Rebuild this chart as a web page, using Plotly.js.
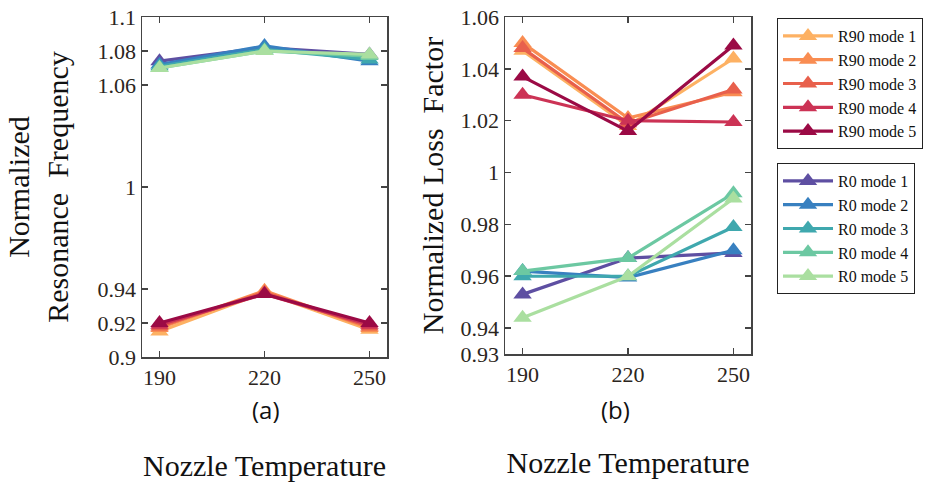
<!DOCTYPE html>
<html>
<head>
<meta charset="utf-8">
<script src="https://cdn.plot.ly/plotly-3.0.1.min.js"></script>
<style>html,body{margin:0;padding:0;background:#fff;}#chart{width:934px;height:486px;}</style>
</head>
<body>
<div id="chart"></div>
<script>
// ---- data ----
const temps = [190, 220, 250];
const r90Names = ['R90 mode 1', 'R90 mode 2', 'R90 mode 3', 'R90 mode 4', 'R90 mode 5'];
const r0Names = ['R0 mode 1', 'R0 mode 2', 'R0 mode 3', 'R0 mode 4', 'R0 mode 5'];
const r90Colors = ['#fdb163', '#f98d52', '#e8604c', '#cc3355', '#9b0a45'];
const r0Colors = ['#5e4fa2', '#3880c0', '#3fa8ae', '#6cc8a2', '#aadfa0'];

// (a) Normalized resonance frequency
const freqR90 = [
  [0.915, 0.938, 0.916],
  [0.917, 0.939, 0.917],
  [0.918, 0.938, 0.918],
  [0.919, 0.937, 0.919],
  [0.920, 0.937, 0.920]
];
const freqR0 = [
  [1.074, 1.082, 1.078],
  [1.072, 1.083, 1.074],
  [1.071, 1.081, 1.075],
  [1.070, 1.080, 1.077],
  [1.070, 1.080, 1.078]
];
// (b) Normalized loss factor
const lossR90 = [
  [1.047, 1.018, 1.044],
  [1.050, 1.021, 1.031],
  [1.048, 1.019, 1.032],
  [1.030, 1.020, 1.0195],
  [1.037, 1.016, 1.049]
];
const lossR0 = [
  [0.953, 0.967, 0.969],
  [0.962, 0.9595, 0.970],
  [0.960, 0.960, 0.979],
  [0.962, 0.967, 0.992],
  [0.944, 0.960, 0.990]
];

const leftYTicks = [0.9, 0.92, 0.94, 1, 1.06, 1.08, 1.1];
const leftYText = ['0.9', '0.92', '0.94', '1', '1.06', '1.08', '1.1'];
const rightYTicks = [0.93, 0.94, 0.96, 0.98, 1, 1.02, 1.04, 1.06];
const rightYText = ['0.93', '0.94', '0.96', '0.98', '1', '1.02', '1.04', '1.06'];

// ---- traces ----
const traces = [];
function add(ys, names, colors, xa, ya, legendId, show) {
  ys.forEach((y, i) => {
    traces.push({
      x: temps, y: y, name: names[i], type: 'scatter', mode: 'lines+markers',
      xaxis: xa, yaxis: ya, legend: legendId, showlegend: show,
      line: {color: colors[i], width: 3.2},
      marker: {symbol: 'triangle-up', size: 16, color: colors[i]}
    });
  });
}
add(freqR90, r90Names, r90Colors, 'x', 'y', 'legend', true);
add(freqR0, r0Names, r0Colors, 'x', 'y', 'legend2', true);
add(lossR90, r90Names, r90Colors, 'x2', 'y2', 'legend', false);
add(lossR0, r0Names, r0Colors, 'x2', 'y2', 'legend2', false);

const serif = 'Liberation Serif, Times New Roman, serif';
const tickFont = {family: serif, size: 22, color: '#2b2520'};
const titleFont = {family: serif, size: 30, color: '#111'};
const legendFont = {family: serif, size: 16, color: '#111'};
const W = 934, H = 486;
const common = {
  showline: true, linecolor: '#444', linewidth: 1.5, mirror: 'ticks',
  ticks: 'inside', ticklen: 6, tickwidth: 1.5, tickcolor: '#444',
  showgrid: false, zeroline: false, tickfont: tickFont
};

const layout = {
  width: W, height: H,
  margin: {l: 0, r: 0, t: 0, b: 0},
  paper_bgcolor: '#fff', plot_bgcolor: '#fff',
  showlegend: true,
  xaxis: Object.assign({}, common, {
    domain: [142 / W, 387 / W], range: [185, 255], tickvals: temps,
    title: {text: 'Nozzle Temperature', font: titleFont, standoff: 66}
  }),
  yaxis: Object.assign({}, common, {
    domain: [1 - 357 / H, 1 - 17 / H], range: [0.9, 1.1],
    tickvals: leftYTicks, ticktext: leftYText,
    title: {text: 'Normalized<br>Resonance  Frequency', font: titleFont, standoff: 20}
  }),
  xaxis2: Object.assign({}, common, {
    domain: [505 / W, 751 / W], range: [185, 255], tickvals: temps, anchor: 'y2',
    title: {text: 'Nozzle Temperature', font: titleFont, standoff: 66}
  }),
  yaxis2: Object.assign({}, common, {
    domain: [1 - 354 / H, 1 - 17 / H], range: [0.93, 1.06], anchor: 'x2',
    tickvals: rightYTicks, ticktext: rightYText,
    title: {text: 'Normalized Loss  Factor', font: titleFont, standoff: 8}
  }),
  legend: {
    x: 777 / W, y: 1 - 18 / H, xanchor: 'left', yanchor: 'top',
    bgcolor: '#fff', bordercolor: '#222', borderwidth: 1,
    font: legendFont, tracegroupgap: 0, itemwidth: 50
  },
  legend2: {
    x: 777 / W, y: 1 - 163 / H, xanchor: 'left', yanchor: 'top',
    bgcolor: '#fff', bordercolor: '#222', borderwidth: 1,
    font: legendFont, tracegroupgap: 0, itemwidth: 50
  },
  annotations: [
    {text: '(a)', xref: 'paper', yref: 'paper', x: 250 / W, y: 1 - 428 / H,
     showarrow: false, font: {family: 'Open Sans, sans-serif', size: 24, color: '#111'}},
    {text: '(b)', xref: 'paper', yref: 'paper', x: 615 / W, y: 1 - 428 / H,
     showarrow: false, font: {family: 'Open Sans, sans-serif', size: 24, color: '#111'}}
  ]
};

Plotly.newPlot('chart', traces, layout, {displayModeBar: false, staticPlot: true});
</script>
</body>
</html>
